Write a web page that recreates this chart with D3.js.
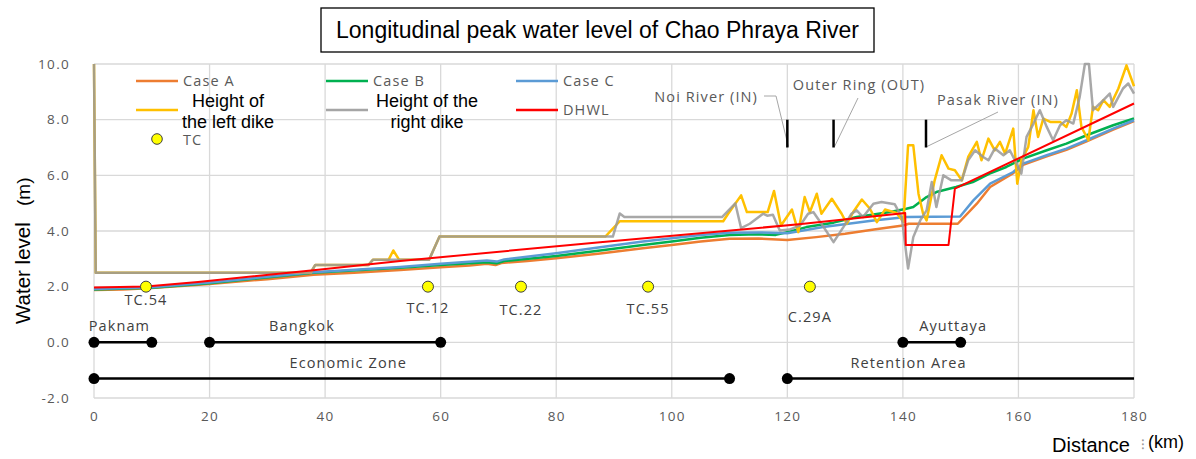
<!DOCTYPE html>
<html>
<head>
<meta charset="utf-8">
<script src="https://cdn.jsdelivr.net/npm/d3@7"></script>
<style>
  html, body { margin: 0; padding: 0; background: #fff; }
  svg { display: block; }
  .tick text { font-family: "Open Sans", sans-serif; font-size: 13.5px; fill: #595959; letter-spacing: 1.3px; }
</style>
</head>
<body>
<svg id="chart" width="1196" height="459"></svg>
<script>
// Peak water level along the river, [distance km, level m]
const caseA = [[0,1.88],[5,1.9],[10,1.95],[20,2.1],[30,2.27],[38,2.43],[45,2.5],[53,2.6],[60,2.7],[65,2.76],[68,2.82],[69.5,2.78],[70.5,2.85],[75,2.92],[80,3.02],[87.6,3.19],[95,3.38],[100,3.5],[105,3.62],[110,3.72],[115,3.73],[120,3.68],[125,3.78],[130,3.9],[135,4.05],[140,4.2],[141,4.26],[149.5,4.26],[152.8,4.98],[155.1,5.58],[159.1,6.08],[160.8,6.38],[164.9,6.68],[168.3,6.92],[171.8,7.22],[176.4,7.64],[180,7.95]];
const caseB = [[0,1.9],[10,1.96],[20,2.12],[38,2.5],[53,2.68],[60,2.78],[68,2.88],[69.7,2.84],[71,2.92],[80,3.1],[87.6,3.3],[95,3.5],[100,3.62],[105,3.76],[110,3.86],[115,3.88],[118,3.86],[120.5,3.98],[123.3,4.14],[128,4.3],[132,4.5],[137.8,4.68],[140.6,4.8],[141.8,4.86],[144.1,5.22],[145.8,5.4],[149.2,5.58],[152.1,5.76],[155,6.06],[157.9,6.3],[160.8,6.6],[164.9,6.9],[168.3,7.14],[171.8,7.44],[176.4,7.8],[180,8.04]];
const caseC = [[0,1.92],[10,1.98],[20,2.15],[38,2.52],[53,2.71],[60,2.82],[68,2.94],[69.7,2.9],[71,2.98],[80,3.2],[87.6,3.42],[95,3.62],[100,3.74],[105,3.86],[110,3.94],[115,3.95],[120,3.92],[126.2,4.14],[134.9,4.38],[140.6,4.5],[149.9,4.52],[152.2,5.1],[155.1,5.7],[159.1,6.12],[160.8,6.42],[164.9,6.72],[168.3,6.96],[171.8,7.26],[176.4,7.68],[180,7.98]];

// Dike crest heights, [distance km, height m]
const leftDike = [[0,10],[0.3,2.5],[37.5,2.5],[38.3,2.78],[47.5,2.78],[48.3,2.97],[51,2.97],[51.8,3.3],[52.8,2.97],[58,2.97],[59.8,3.8],[88.5,3.8],[91,4.35],[108.9,4.35],[109.7,4.6],[112,5.28],[113,4.68],[116.6,4.68],[117.7,5.44],[118.9,4.2],[120.8,4.77],[121.9,3.96],[123,5.22],[123.9,4.68],[125.1,5.34],[125.9,4.62],[127.7,5.16],[129.4,4.62],[130.3,4.26],[131.4,4.68],[132.9,5.13],[134.3,4.8],[135.5,4.32],[136.9,4.77],[138.9,4.65],[140.1,4.32],[140.9,7.08],[141.8,7.08],[142.7,5.34],[143.5,4.62],[144.1,4.38],[145.5,5.82],[146.7,6.72],[147.9,6.24],[149,6.18],[150.2,5.82],[151.3,6.66],[152.8,7.2],[153.6,6.54],[154.8,7.32],[155.9,6.9],[156.8,7.2],[157.7,6.78],[159.1,7.68],[159.8,5.7],[160.5,6.54],[161.7,7.02],[162.6,8.34],[163.4,7.38],[164.3,8.04],[165.5,7.92],[167.2,7.92],[168.3,7.74],[169.2,8.22],[170.1,9.06],[170.9,7.74],[172.1,7.26],[172.9,8.46],[173.8,8.34],[174.7,8.7],[175.8,8.46],[177.3,9.12],[178.7,9.95],[180,9.2]];
const rightDike = [[0,10],[0.3,2.5],[37.5,2.5],[38.3,2.78],[47.5,2.78],[48.3,2.97],[58,2.97],[59.8,3.8],[89.8,3.8],[91,4.63],[91.8,4.5],[108.7,4.5],[111,4.99],[112,4.1],[113.5,4.26],[115.8,4.62],[116.5,4.55],[117.5,4.58],[118.7,4.02],[120.4,4.05],[122.2,4.2],[123.6,4.62],[124.5,4.68],[125.9,4.26],[128,3.6],[129.7,4.14],[131.1,4.62],[132,4.74],[133.1,4.5],[134.9,4.98],[136.3,5.04],[138.6,4.96],[139.8,4.5],[140.9,2.65],[141.8,3.78],[143,4.38],[144.1,4.74],[145,5.76],[145.8,4.86],[147,6.0],[148.4,5.82],[150.2,5.82],[151.3,6.54],[152.5,6.9],[153.9,6.66],[154.8,6.54],[155.9,6.96],[157.4,6.72],[158.5,6.9],[159.7,6.42],[160.5,6.06],[161.4,7.38],[162.6,7.86],[163.7,8.34],[164.9,7.74],[166,7.26],[167.2,7.8],[168.3,7.98],[169.5,7.86],[170.6,8.82],[171.5,10.0],[172.2,10.0],[172.9,8.34],[174.1,8.58],[175.8,8.94],[176.4,8.46],[178.1,9.12],[179,9.3],[180,8.94]];

// Design high water level
const dhwl = [[0,1.97],[9,2.01],[18,2.17],[38,2.59],[53,2.92],[87.6,3.6],[122,4.24],[140.4,4.65],[140.5,3.5],[147.9,3.5],[149,5.52],[180,8.58]];

// Water level gauging stations
const gaugeNames = ["TC.54","TC.12","TC.22","TC.55","C.29A"];
const gaugeKm = [9,57.8,73.9,95.9,123.9];
const gaugeLevel = [2,2,2,2,2];

// Reaches along the river
const zoneNames = ["Paknam","Bangkok","Ayuttaya","Economic Zone","Retention Area"];
const zoneStart = [0,20,140,0,120];
const zoneEnd = [10,60,150,110,180];
const zoneLevel = [0,0,0,-1.3,-1.3];

// Tributary inflow / outflow points
const junctionNames = ["Noi River (IN)","Outer Ring (OUT)","Pasak River (IN)"];
const junctionKm = [120,128,144];
const junctionLow = [7,7,7];
const junctionHigh = [8,8,8];

const xTicks = [0,20,40,60,80,100,120,140,160,180];
const yTicks = [-2,0,2,4,6,8,10];

const svg = d3.select("#chart");
const x = d3.scaleLinear().domain([0,180]).range([94,1134]);
const y = d3.scaleLinear().domain([-2,10]).range([398,64]);

const sans = '"Open Sans", sans-serif';
const arial = '"Liberation Sans", Arial, sans-serif';
const tickGray = "#595959";
const labelSize = 14.5, labelSpacing = 1.1;

// grid
const grid = svg.append("g");
grid.selectAll("line.h").data(yTicks).join("line")
  .attr("x1", x(0)).attr("x2", x(180))
  .attr("y1", d => y(d)).attr("y2", d => y(d))
  .attr("stroke", "#d9d9d9").attr("stroke-width", 1.3);
grid.selectAll("line.v").data(xTicks).join("line")
  .attr("y1", y(-2)).attr("y2", y(10))
  .attr("x1", d => x(d)).attr("x2", d => x(d))
  .attr("stroke", "#d9d9d9").attr("stroke-width", 1.3);

// axes (labels only)
const fmtY = v => d3.format(".1f")(v).replace("−", "-");
const yAxis = svg.append("g").attr("transform", `translate(${x(0)},0)`)
  .call(d3.axisLeft(y).tickValues(yTicks).tickFormat(fmtY).tickSize(0).tickPadding(24));
yAxis.select(".domain").remove();
const xAxis = svg.append("g").attr("transform", `translate(0,${y(-2)})`)
  .call(d3.axisBottom(x).tickValues(xTicks).tickFormat(d3.format("d")).tickSize(0).tickPadding(13));
xAxis.select(".domain").remove();

// axis titles
svg.append("text")
  .attr("transform", "translate(30,324) rotate(-90)")
  .attr("font-family", arial).attr("font-size", 20.5).attr("fill", "#000")
  .text("Water level");
svg.append("text")
  .attr("transform", "translate(30,206) rotate(-90)")
  .attr("font-family", arial).attr("font-size", 19).attr("fill", "#000")
  .text("(m)");
svg.append("text").attr("x", 1052).attr("y", 452)
  .attr("font-family", arial).attr("font-size", 20).attr("fill", "#000")
  .text("Distance");
svg.append("text").attr("x", 1141).attr("y", 449)
  .attr("font-family", arial).attr("font-size", 14).attr("fill", "#999")
  .text("⁝");
svg.append("text").attr("x", 1148).attr("y", 448)
  .attr("font-family", arial).attr("font-size", 18).attr("fill", "#000")
  .text("(km)");

// reaches
const zones = zoneNames.map((n, i) => ({ n, s: zoneStart[i], e: zoneEnd[i], v: zoneLevel[i] }));
const zoneLabelShift = { "Paknam": -0.6, "Bangkok": -4, "Ayuttaya": 3.7, "Economic Zone": -11, "Retention Area": -9 };
const zg = svg.append("g");
zg.selectAll("line").data(zones).join("line")
  .attr("x1", d => x(d.s)).attr("x2", d => x(d.e))
  .attr("y1", d => y(d.v)).attr("y2", d => y(d.v))
  .attr("stroke", "#000").attr("stroke-width", 2.5);
const zoneDots = [];
zones.forEach(d => { zoneDots.push({ k: d.s, v: d.v }); if (d.e < 180) zoneDots.push({ k: d.e, v: d.v }); });
zg.selectAll("circle").data(zoneDots).join("circle")
  .attr("cx", d => x(d.k)).attr("cy", d => y(d.v)).attr("r", 5.5).attr("fill", "#000");
zg.selectAll("text").data(zones).join("text")
  .attr("x", d => x((d.s + d.e) / 2 + zoneLabelShift[d.n]))
  .attr("y", d => y(d.v) - 11)
  .attr("text-anchor", "middle")
  .attr("font-family", sans).attr("font-size", labelSize).attr("letter-spacing", labelSpacing).attr("fill", "#404040")
  .text(d => d.n);

// series
const line = d3.line().x(d => x(d[0])).y(d => y(d[1]));
const plot = svg.append("g");
[[caseA, "#ed7d31", 2.5, 1], [caseB, "#00b050", 2.5, 1], [caseC, "#5b9bd5", 2.5, 1],
 [leftDike, "#ffc000", 2.5, 1], [rightDike, "#999999", 2.5, 0.85], [dhwl, "#ff0000", 2, 1]]
  .forEach(([data, color, w, op]) => {
    plot.append("path").datum(data).attr("d", line)
      .attr("fill", "none").attr("stroke", color).attr("stroke-width", w)
      .attr("stroke-opacity", op).attr("stroke-linejoin", "round");
  });

// gauging stations
const gauges = gaugeNames.map((n, i) => ({ n, k: gaugeKm[i], v: gaugeLevel[i] }));
const gaugeLabelDrop = { "TC.54": 18, "TC.12": 26, "TC.22": 28, "TC.55": 27, "C.29A": 35 };
const gg = svg.append("g");
gg.selectAll("circle").data(gauges).join("circle")
  .attr("cx", d => x(d.k)).attr("cy", d => y(d.v)).attr("r", 5.5)
  .attr("fill", "#ffff00").attr("stroke", "#404040").attr("stroke-width", 1);
gg.selectAll("text").data(gauges).join("text")
  .attr("x", d => x(d.k)).attr("y", d => y(d.v) + gaugeLabelDrop[d.n])
  .attr("text-anchor", "middle")
  .attr("font-family", sans).attr("font-size", labelSize).attr("letter-spacing", labelSpacing).attr("fill", "#404040")
  .text(d => d.n);

// junction markers with callouts
const junctions = junctionNames.map((n, i) => ({ n, k: junctionKm[i], lo: junctionLow[i], hi: junctionHigh[i] }));
const callout = {
  "Noi River (IN)":   { tx: 758, ty: 102, anchor: "end",    path: [[764, 96], [776, 96]] },
  "Outer Ring (OUT)": { tx: 859, ty: 90,  anchor: "middle", path: [[858, 98]] },
  "Pasak River (IN)": { tx: 998, ty: 105, anchor: "middle", path: [[998, 112]] }
};
const jg = svg.append("g");
junctions.forEach(d => {
  const c = callout[d.n];
  const pts = c.path.concat([[x(d.k) + 1, y(d.lo) - 1]]);
  jg.append("path").attr("d", d3.line()(pts))
    .attr("fill", "none").attr("stroke", "#a6a6a6").attr("stroke-width", 1);
  jg.append("line")
    .attr("x1", x(d.k)).attr("x2", x(d.k)).attr("y1", y(d.lo)).attr("y2", y(d.hi))
    .attr("stroke", "#000").attr("stroke-width", 2.5);
  jg.append("text").attr("x", c.tx).attr("y", c.ty).attr("text-anchor", c.anchor)
    .attr("font-family", sans).attr("font-size", labelSize).attr("letter-spacing", labelSpacing).attr("fill", tickGray)
    .text(d.n);
});

// legend
const lg = svg.append("g");
const legendLines = [
  { c: "#ed7d31", x: 136, y: 81, label: ["Case A"] },
  { c: "#00b050", x: 326, y: 81, label: ["Case B"] },
  { c: "#5b9bd5", x: 516, y: 81, label: ["Case C"] },
  { c: "#ffc000", x: 136, y: 110, label: ["Height of", "the left dike"], cx: 228 },
  { c: "#a5a5a5", x: 326, y: 110, label: ["Height of the", "right dike"], cx: 427 },
  { c: "#ff0000", x: 516, y: 110, label: ["DHWL"] }
];
legendLines.forEach(d => {
  lg.append("line").attr("x1", d.x).attr("x2", d.x + 42).attr("y1", d.y).attr("y2", d.y)
    .attr("stroke", d.c).attr("stroke-width", 2.5);
  if (d.label.length === 1) {
    lg.append("text").attr("x", d.x + 47).attr("y", d.y + 5)
      .attr("font-family", sans).attr("font-size", labelSize).attr("letter-spacing", labelSpacing).attr("fill", tickGray)
      .text(d.label[0]);
  } else {
    d.label.forEach((t, i) => {
      lg.append("text").attr("x", d.cx).attr("y", 107 + i * 21).attr("text-anchor", "middle")
        .attr("font-family", arial).attr("font-size", 18).attr("fill", "#000")
        .text(t);
    });
  }
});
lg.append("circle").attr("cx", 157).attr("cy", 139).attr("r", 5.3)
  .attr("fill", "#ffff00").attr("stroke", "#404040").attr("stroke-width", 1);
lg.append("text").attr("x", 183).attr("y", 145)
  .attr("font-family", sans).attr("font-size", labelSize).attr("letter-spacing", labelSpacing).attr("fill", tickGray)
  .text("TC");

// title
svg.append("rect").attr("x", 321).attr("y", 8).attr("width", 553).attr("height", 44)
  .attr("fill", "#fff").attr("stroke", "#000").attr("stroke-width", 1.3);
svg.append("text").attr("x", 597.5).attr("y", 38).attr("text-anchor", "middle")
  .attr("font-family", arial).attr("font-size", 23).attr("fill", "#000")
  .text("Longitudinal peak water level of Chao Phraya River");
</script>
</body>
</html>
